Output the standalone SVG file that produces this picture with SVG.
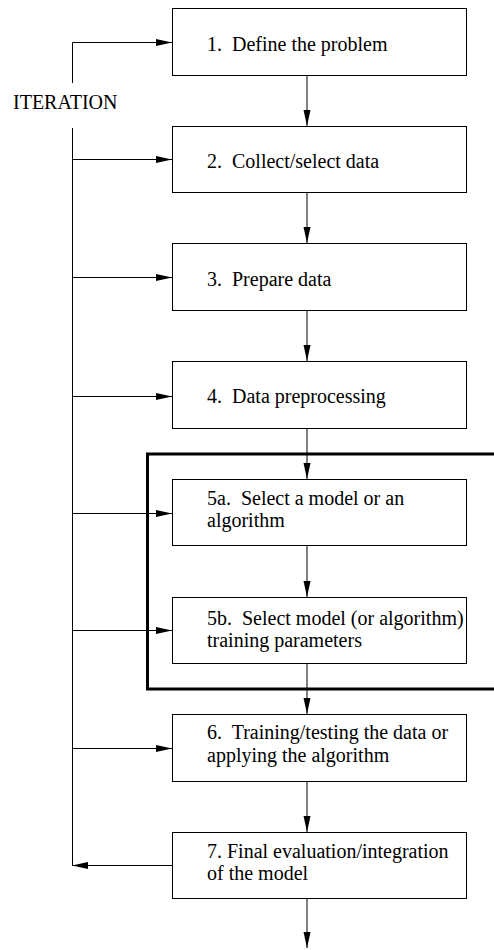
<svg xmlns="http://www.w3.org/2000/svg" width="494" height="950" viewBox="0 0 494 950">
<style>
.box{fill:#fff;stroke:#000;stroke-width:1}
.t{font-family:"Liberation Serif","Times New Roman",serif;font-size:20px;fill:#000}
.c{fill:none;stroke:#000;stroke-width:1}
</style>
<defs>
<marker id="ah" markerUnits="userSpaceOnUse" markerWidth="16" markerHeight="8" refX="16" refY="3.5" orient="auto">
<path d="M0,0 L16,3.5 L0,7 z" fill="#000"/>
</marker>
</defs>
<rect x="147.5" y="454" width="350" height="235" fill="none" stroke="#000" stroke-width="3"/>
<g id="n1"><rect class="box" x="172.5" y="8.5" width="294" height="67"/><text class="t" x="207" y="51" xml:space="preserve">1.  Define the problem</text></g>
<g id="n2"><rect class="box" x="172.5" y="126.5" width="294" height="66"/><text class="t" x="207" y="168" xml:space="preserve">2.  Collect/select data</text></g>
<g id="n3"><rect class="box" x="172.5" y="243.5" width="294" height="67"/><text class="t" x="207" y="286" xml:space="preserve">3.  Prepare data</text></g>
<g id="n4"><rect class="box" x="172.5" y="361.5" width="294" height="67"/><text class="t" x="207" y="403" xml:space="preserve">4.  Data preprocessing</text></g>
<g id="n5a"><rect class="box" x="172.5" y="479.5" width="294" height="66"/><text class="t" x="207" y="505" xml:space="preserve">5a.  Select a model or an</text><text class="t" x="207" y="527">algorithm</text></g>
<g id="n5b"><rect class="box" x="172.5" y="597.5" width="294" height="66"/><text class="t" x="207" y="625" xml:space="preserve">5b.  Select model (or algorithm)</text><text class="t" x="207" y="647">training parameters</text></g>
<g id="n6"><rect class="box" x="172.5" y="714.5" width="294" height="67"/><text class="t" x="207" y="739" xml:space="preserve">6.  Training/testing the data or</text><text class="t" x="207" y="762">applying the algorithm</text></g>
<g id="n7"><rect class="box" x="172.5" y="832.5" width="294" height="66"/><text class="t" x="207" y="858">7. Final evaluation/integration</text><text class="t" x="207" y="880">of the model</text></g>
<g id="iter"><text class="t" x="13" y="109">ITERATION</text></g>
<g id="connectors">
<line class="c" x1="307" y1="76" x2="307" y2="126" marker-end="url(#ah)"/>
<line class="c" x1="307" y1="193" x2="307" y2="243" marker-end="url(#ah)"/>
<line class="c" x1="307" y1="311" x2="307" y2="361" marker-end="url(#ah)"/>
<line class="c" x1="307" y1="429" x2="307" y2="479" marker-end="url(#ah)"/>
<line class="c" x1="307" y1="546" x2="307" y2="597" marker-end="url(#ah)"/>
<line class="c" x1="307" y1="664" x2="307" y2="714" marker-end="url(#ah)"/>
<line class="c" x1="307" y1="782" x2="307" y2="832" marker-end="url(#ah)"/>
<line class="c" x1="307" y1="899" x2="307" y2="948" marker-end="url(#ah)"/>
<polyline class="c" points="72.5,83 72.5,42.5 172,42.5" marker-end="url(#ah)"/>
<line class="c" x1="72.5" y1="128" x2="72.5" y2="865.5"/>
<line class="c" x1="72.5" y1="159.5" x2="172" y2="159.5" marker-end="url(#ah)"/>
<line class="c" x1="72.5" y1="277.5" x2="172" y2="277.5" marker-end="url(#ah)"/>
<line class="c" x1="72.5" y1="396.5" x2="172" y2="396.5" marker-end="url(#ah)"/>
<line class="c" x1="72.5" y1="513.5" x2="172" y2="513.5" marker-end="url(#ah)"/>
<line class="c" x1="72.5" y1="630.5" x2="172" y2="630.5" marker-end="url(#ah)"/>
<line class="c" x1="72.5" y1="748.5" x2="172" y2="748.5" marker-end="url(#ah)"/>
<line class="c" x1="172" y1="865.5" x2="72" y2="865.5" marker-end="url(#ah)"/>
</g>
</svg>
